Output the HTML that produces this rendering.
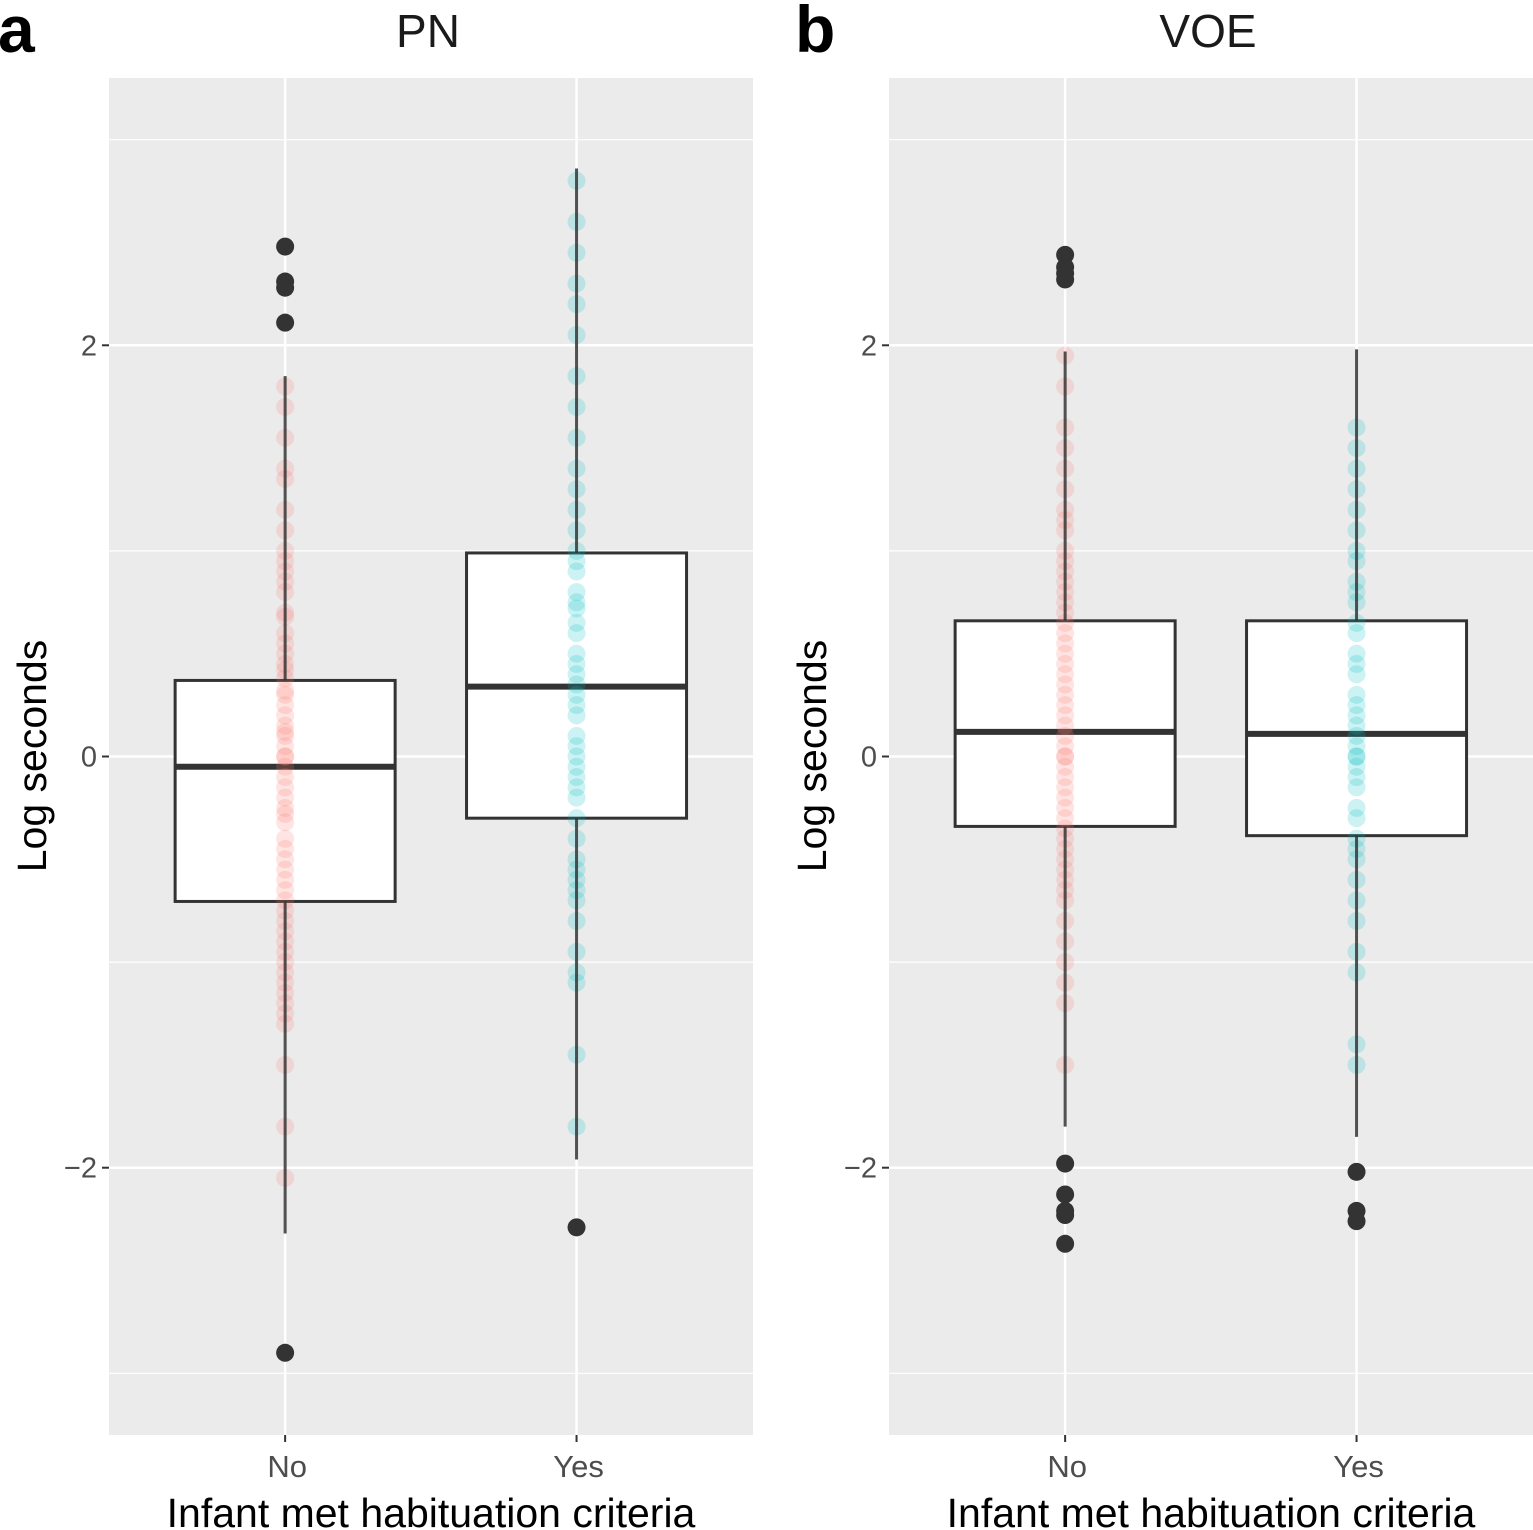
<!DOCTYPE html>
<html><head><meta charset="utf-8"><style>
html,body{margin:0;padding:0;background:#fff;}
svg{display:block;font-family:"Liberation Sans",Arial,sans-serif;}
</style></head><body>
<svg id="fig" width="1533" height="1530" viewBox="0 0 1533 1530"></svg>
<script>
const panels = ["PN","VOE"];
const letters = ["a","b"];
const categories = ["No","Yes"];
const yTicks = [-2,0,2];
const yMinor = [-3,-1,1,3];
// box stats: [lower whisker, q1, median, q3, upper whisker]
const boxPN_No = [-2.32,-0.705,-0.05,0.37,1.85];
const boxPN_Yes = [-1.96,-0.30,0.34,0.99,2.86];
const boxVOE_No = [-1.80,-0.34,0.12,0.66,1.97];
const boxVOE_Yes = [-1.85,-0.385,0.11,0.66,1.98];
const outPN_No = [2.48,2.31,2.28,2.11,-2.9];
const outPN_Yes = [-2.29];
const outVOE_No = [2.44,2.38,2.35,2.32,-1.98,-2.13,-2.21,-2.23,-2.37];
const outVOE_Yes = [-2.02,-2.21,-2.26];
const ptsPN_No = [1.8,1.7,1.55,1.4,1.35,1.2,1.1,1.0,0.95,0.9,0.85,0.8,0.7,0.68,0.6,0.55,0.5,0.45,0.42,0.38,0.32,0.3,0.25,0.2,0.15,0.12,0.1,0.05,0.0,0.0,-0.05,-0.1,-0.15,-0.2,-0.25,-0.28,-0.32,-0.4,-0.45,-0.5,-0.55,-0.6,-0.65,-0.7,-0.75,-0.8,-0.85,-0.9,-0.95,-1.0,-1.05,-1.1,-1.15,-1.2,-1.25,-1.3,-1.5,-1.8,-2.05];
const ptsPN_Yes = [2.8,2.6,2.45,2.3,2.2,2.05,1.85,1.7,1.55,1.4,1.3,1.2,1.1,1.0,0.95,0.9,0.8,0.75,0.72,0.65,0.6,0.5,0.45,0.4,0.35,0.3,0.25,0.2,0.1,0.05,0.0,-0.05,-0.1,-0.15,-0.2,-0.3,-0.4,-0.5,-0.55,-0.6,-0.65,-0.7,-0.8,-0.95,-1.05,-1.1,-1.45,-1.8];
const ptsVOE_No = [1.95,1.8,1.6,1.5,1.4,1.3,1.2,1.15,1.1,1.0,0.95,0.9,0.85,0.8,0.75,0.7,0.65,0.6,0.55,0.5,0.45,0.4,0.35,0.3,0.25,0.2,0.15,0.1,0.05,0.0,0.0,-0.05,-0.1,-0.15,-0.2,-0.25,-0.3,-0.35,-0.4,-0.45,-0.5,-0.55,-0.6,-0.65,-0.7,-0.8,-0.9,-1.0,-1.1,-1.2,-1.5];
const ptsVOE_Yes = [1.6,1.5,1.4,1.3,1.2,1.1,1.0,0.95,0.85,0.8,0.75,0.65,0.6,0.5,0.45,0.4,0.3,0.25,0.2,0.15,0.1,0.05,0.0,0.0,-0.05,-0.1,-0.15,-0.25,-0.3,-0.4,-0.45,-0.5,-0.6,-0.7,-0.8,-0.95,-1.05,-1.4,-1.5];

const boxes = [[boxPN_No,boxPN_Yes],[boxVOE_No,boxVOE_Yes]];
const outs = [[outPN_No,outPN_Yes],[outVOE_No,outVOE_Yes]];
const pts = [[ptsPN_No,ptsPN_Yes],[ptsVOE_No,ptsVOE_Yes]];
const fills = ["#F8766D","#00BFC4"];

const svg = document.getElementById('fig');
const NS = "http://www.w3.org/2000/svg";
function mk(tag, attrs, parent){const e=document.createElementNS(NS,tag);for(const k in attrs)e.setAttribute(k,attrs[k]);(parent||svg).appendChild(e);return e;}
const plotTop=78, plotBot=1435, yMin=-3.30, yMax=3.30;
function y(v){return plotTop+(yMax-v)/(yMax-yMin)*(plotBot-plotTop);}
const panelX=[109,889], panelW=644;
function x(p,i){return panelX[p]+panelW*(i===0?0.2735:0.726);}

panels.forEach((name,p)=>{
  const g=mk('g',{});
  
  
  const bg=mk('rect',{x:panelX[p],y:plotTop,width:panelW,height:plotBot-plotTop,fill:'#EBEBEB'},g);
  
  
  yMinor.forEach(v=>{const l=mk('line',{x1:panelX[p],x2:panelX[p]+panelW,y1:y(v),y2:y(v),stroke:'#fff','stroke-width':1.2},g);
    
    });
  yTicks.forEach(v=>{const l=mk('line',{x1:panelX[p],x2:panelX[p]+panelW,y1:y(v),y2:y(v),stroke:'#fff','stroke-width':2.5},g);
    
    
    const t=mk('line',{x1:panelX[p]-7,x2:panelX[p],y1:y(v),y2:y(v),stroke:'#333','stroke-width':2},g);
    
    
    const tx=mk('text',{x:panelX[p]-12,y:y(v)+10,'text-anchor':'end','font-size':29,fill:'#4D4D4D'},g);
    tx.textContent=(v<0?'\u2212'+Math.abs(v):String(v));
    
    });
  categories.forEach((c,i)=>{
    const cx=x(p,i);
    const l=mk('line',{x1:cx,x2:cx,y1:plotTop,y2:plotBot,stroke:'#fff','stroke-width':2.5},g);
    
    
    const t=mk('line',{x1:cx,x2:cx,y1:plotBot,y2:plotBot+7,stroke:'#333','stroke-width':2},g);
    
    
    const tx=mk('text',{x:cx+2,y:plotBot+42,'text-anchor':'middle','font-size':31,fill:'#4D4D4D'},g);
    tx.textContent=c;
    
    
    const b=boxes[p][i];
    const bw=110;
    const r=mk('rect',{x:cx-bw,y:y(b[3]),width:2*bw,height:y(b[1])-y(b[3]),fill:'#fff',stroke:'#333','stroke-width':3},g);
    
    
    const m=mk('line',{x1:cx-bw,x2:cx+bw,y1:y(b[2]),y2:y(b[2]),stroke:'#333','stroke-width':6},g);
    
    
    pts[p][i].forEach(v=>{const pt=mk('circle',{cx:cx,cy:y(v),r:9,fill:fills[i],'fill-opacity':0.2},g);
      
      });
    const wk1=mk('line',{x1:cx,x2:cx,y1:y(b[1]),y2:y(b[0]),stroke:'#333','stroke-width':3,'stroke-opacity':0.85},g);
    
    
    const wk2=mk('line',{x1:cx,x2:cx,y1:y(b[3]),y2:y(b[4]),stroke:'#333','stroke-width':3,'stroke-opacity':0.85},g);
    
    
    outs[p][i].forEach(v=>{const o=mk('circle',{cx:cx,cy:y(v),r:9,fill:'#333'},g);
      
      });
  });
  const st=mk('text',{x:panelX[p]+panelW/2-3,y:47,'text-anchor':'middle','font-size':46,fill:'#1A1A1A'},g);
  st.textContent=name;
  
  
  const lt=mk('text',{x:p===0?-2:795,y:52,'font-size':66,'font-weight':'bold',fill:'#000'},g);
  lt.textContent=letters[p];
  
  
  const xt=mk('text',{x:panelX[p]+panelW/2,y:1527,'text-anchor':'middle','font-size':41,fill:'#000'},g);
  xt.textContent='Infant met habituation criteria';
  
  
  const yx=panelX[p]-63;
  const yt=mk('text',{x:yx,y:756,'text-anchor':'middle','font-size':41,fill:'#000',transform:`rotate(-90 ${yx} 756)`},g);
  yt.textContent='Log seconds';
  
  
});
</script>
</body></html>
